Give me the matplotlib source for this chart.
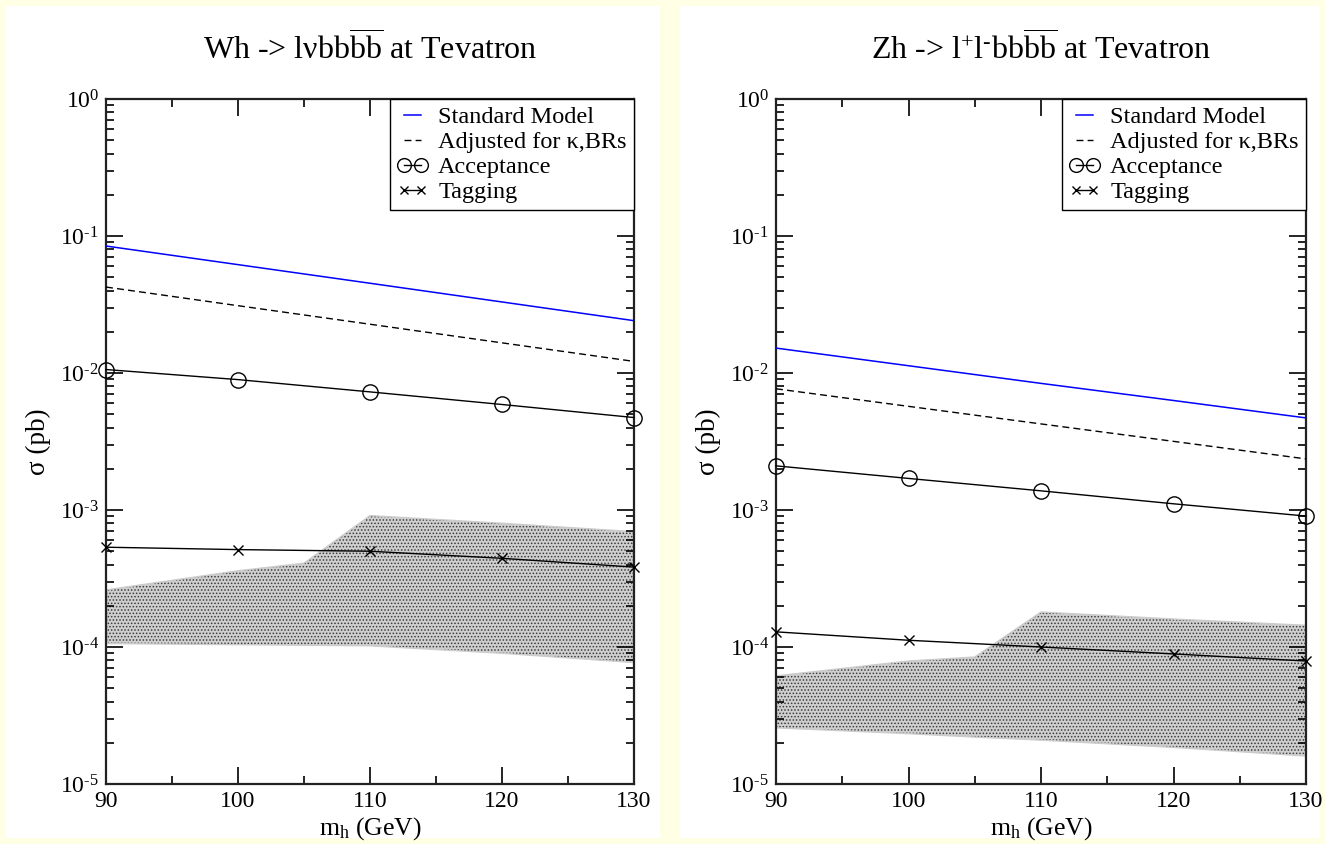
import numpy as np
import matplotlib
matplotlib.use("Agg")
import matplotlib.pyplot as plt
from matplotlib.patches import Rectangle
from matplotlib.ticker import LogLocator, MultipleLocator, NullFormatter, FuncFormatter

# ==========================================
# DATI
# ==========================================
mh = [90, 100, 110, 120, 130]

# Wh -> l nu bb bb
wh_sm = [0.0845, 0.0618, 0.0452, 0.0330, 0.0241]
wh_adj = [0.0424, 0.0310, 0.0227, 0.0166, 0.01215]
wh_acc = [0.0106, 0.00895, 0.00728, 0.00589, 0.00473]
wh_tag = [5.35e-4, 5.14e-4, 5.0e-4, 4.44e-4, 3.83e-4]

# Zh -> l+ l- bb bb
zh_sm = [0.0152, 0.0113, 0.0084, 0.0063, 0.0047]
zh_adj = [0.00767, 0.00571, 0.00425, 0.00317, 0.00236]
zh_acc = [0.0021, 0.0017, 0.00138, 0.00111, 0.000903]
zh_tag = [1.29e-4, 1.12e-4, 1.0e-4, 8.9e-5, 7.9e-5]

# banda di fondo (zona puntinata)
band_x = [90, 100, 105, 110, 120, 130]
wh_band_lo = [1.06e-4, 1.04e-4, 1.03e-4, 1.02e-4, 9.0e-5, 7.7e-5]
wh_band_hi = [2.61e-4, 3.6e-4, 4.09e-4, 9.1e-4, 8.0e-4, 6.95e-4]
zh_band_lo = [2.57e-5, 2.33e-5, 2.2e-5, 2.09e-5, 1.85e-5, 1.6e-5]
zh_band_hi = [6.15e-5, 7.9e-5, 8.45e-5, 1.8e-4, 1.6e-4, 1.44e-4]

titoli = [r"Wh -> lνbb$\overline{\mathrm{bb}}$ at Tevatron",
          r"Zh -> l$^{+}$l$^{\text{-}}$bb$\overline{\mathrm{bb}}$ at Tevatron"]

# ==========================================
# STILE
# ==========================================
plt.rcParams['font.family'] = ['Liberation Serif', 'DejaVu Serif']
plt.rcParams['mathtext.fontset'] = 'custom'
plt.rcParams['mathtext.rm'] = 'Liberation Serif'
plt.rcParams['mathtext.it'] = 'Liberation Serif:italic'
plt.rcParams['mathtext.bf'] = 'Liberation Serif:bold'
plt.rcParams['hatch.linewidth'] = 0.7


def etichetta_log(v, pos):
    # 10^n con il trattino corto come nell'originale
    esp = int(round(np.log10(v)))
    if esp < 0:
        return r"10$^{\text{-%d}}$" % (-esp)
    return r"10$^{%d}$" % esp


fig = plt.figure(figsize=(13.25, 8.44), dpi=100)
fig.patch.set_facecolor('#ffffe6')

# riquadri bianchi dietro ai due pannelli
fig.add_artist(Rectangle((6 / 1325, 6 / 844), 654 / 1325, 832 / 844,
                         transform=fig.transFigure, facecolor='white', edgecolor='none', zorder=0))
fig.add_artist(Rectangle((680 / 1325, 6 / 844), 640 / 1325, 832 / 844,
                         transform=fig.transFigure, facecolor='white', edgecolor='none', zorder=0))

ax1 = fig.add_axes([106 / 1325, 60 / 844, 528 / 1325, 685 / 844])
ax2 = fig.add_axes([776 / 1325, 60 / 844, 530 / 1325, 685 / 844])

pannelli = [
    (ax1, wh_sm, wh_adj, wh_acc, wh_tag, wh_band_lo, wh_band_hi),
    (ax2, zh_sm, zh_adj, zh_acc, zh_tag, zh_band_lo, zh_band_hi),
]

for i, (ax, sm, adj, acc, tag, lo, hi) in enumerate(pannelli):
    ax.set_facecolor('white')
    ax.set_yscale('log')

    # banda puntinata
    ax.fill_between(band_x, lo, hi, facecolor='#cfcfcf', edgecolor='#3a3a3a',
                    hatch='.....', linewidth=0, zorder=1)
    ax.plot(band_x, lo, color='#cccccc', lw=1, zorder=1.5)
    ax.plot(band_x, hi, color='#cccccc', lw=1, zorder=1.5)

    ax.plot(mh, sm, color='#0000ff', lw=1.1, label="Standard Model", zorder=3)
    ax.plot(mh, adj, color='black', lw=1, ls=(0, (5, 3)), label="Adjusted for κ,BRs", zorder=3)
    ax.plot(mh, acc, color='black', lw=1, marker='o', ms=11, mfc='none', mew=1,
            label="Acceptance", clip_on=False, zorder=4)
    ax.plot(mh, tag, color='black', lw=1, marker='x', ms=7, mew=1,
            label="Tagging", clip_on=False, zorder=4)

    ax.set_xlim(90, 130)
    ax.set_ylim(1e-5, 1)
    ax.xaxis.set_major_locator(MultipleLocator(10))
    ax.xaxis.set_minor_locator(MultipleLocator(5))
    ax.yaxis.set_major_locator(LogLocator(base=10, numticks=10))
    ax.yaxis.set_major_formatter(FuncFormatter(etichetta_log))
    ax.yaxis.set_minor_locator(LogLocator(base=10, subs=np.arange(2, 10), numticks=20))
    ax.yaxis.set_minor_formatter(NullFormatter())

    ax.tick_params(which='both', direction='in', top=True, right=True, labelsize=17, colors='black')
    ax.tick_params(which='major', length=12, width=1.2)
    ax.tick_params(which='minor', length=6, width=1.2)
    ax.tick_params(axis='x', pad=5)
    ax.tick_params(axis='y', pad=5)
    for s in ax.spines.values():
        s.set_linewidth(1.6)
        s.set_color('#222222')

    ax.set_title(titoli[i], fontsize=23, pad=28)
    ax.set_xlabel(r"m$_\mathrm{h}$ (GeV)", fontsize=18.5, labelpad=2)
    ax.set_ylabel("σ (pb)", fontsize=19.5, labelpad=6)

    leg = ax.legend(loc='upper right', borderaxespad=0, fancybox=False, framealpha=1,
                    edgecolor='black', fontsize=17.5, handlelength=1.3, handletextpad=0.4,
                    numpoints=2, labelspacing=0.12, borderpad=0.3, markerscale=0.9)
    leg.get_frame().set_linewidth(1.0)

plt.savefig("out.png", dpi=100, facecolor=fig.get_facecolor())
